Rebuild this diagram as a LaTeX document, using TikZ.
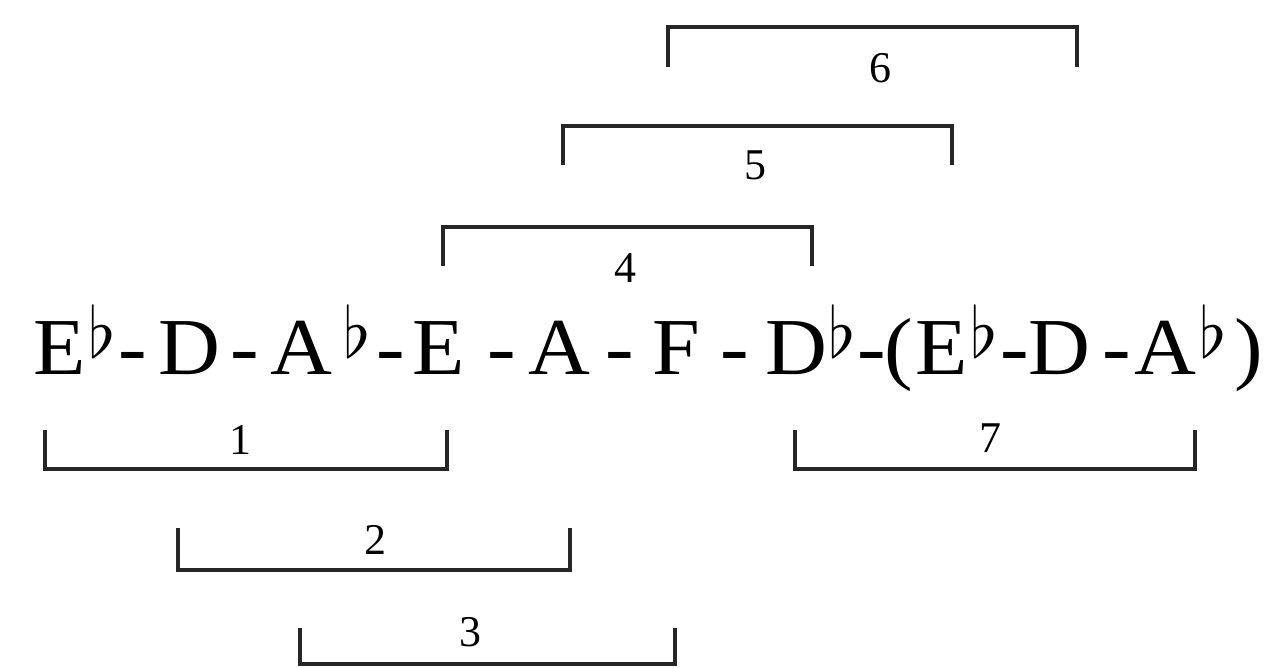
\documentclass[tikz,border=0pt]{standalone}
\usepackage{fontspec}
\setmainfont{Liberation Serif}
\usepackage{graphicx}
\usepackage{tikz}
\usetikzlibrary{positioning}

\begin{document}
\begin{tikzpicture}[
    x=0.02cm, y=-0.02cm,
    every node/.style={inner sep=0pt, outer sep=0pt},
    notes/.style={font=\rmfamily\fontsize{46}{54}\selectfont, anchor=base west, xscale=1.06},
    flatsign/.style={anchor=south west},
    num/.style={font=\rmfamily\fontsize{25}{30}\selectfont},
    bracket/.style={line width=2.2pt, line join=miter, black!85}
]
    \useasboundingbox (0,0) rectangle (1264,667);

    % the row of notes
    \foreach \x/\t [count=\i] in {33/E, 158/D, 270/A, 412/E, 528/A, 652/F, 765/D, 915/E, 1028/D, 1134/A}
        \node (note\i) [notes] at (\x,374) {\t};
    \foreach \x [count=\i] in {88,343,828,970,1199}
        \node (flat\i) [flatsign] at (\x,357) {\resizebox{!}{30pt}{$\flat$}};
    \foreach \x [count=\i] in {118,230,376,487,605,720,857,1000,1102}
        \node (dash\i) [notes] at (\x,374) {-};
    \node (lpar) [notes] at (884,374) {(};
    \node (rpar) [notes] at (1234,374) {)};

    % brackets above the row
    \draw [bracket] (443,266) -- (443,227) -- (812,227) -- (812,266);
    \node (n4) [num] at (625,268) {4};
    \draw [bracket] (563,165) -- (563,126) -- (952,126) -- (952,165);
    \node (n5) [num] at (755,165) {5};
    \draw [bracket] (668,67) -- (668,27) -- (1077,27) -- (1077,67);
    \node (n6) [num] at (880,68) {6};

    % brackets below the row
    \draw [bracket] (45,430) -- (45,469) -- (447,469) -- (447,430);
    \node (n1) [num] at (240,440) {1};
    \draw [bracket] (795,430) -- (795,469) -- (1195,469) -- (1195,430);
    \node (n7) [num] at (990,438) {7};
    \draw [bracket] (178,528) -- (178,570) -- (570,570) -- (570,528);
    \node (n2) [num] at (375,540) {2};
    \draw [bracket] (300,628) -- (300,664) -- (675,664) -- (675,628);
    \node (n3) [num] at (470,632) {3};
\end{tikzpicture}
\end{document}
